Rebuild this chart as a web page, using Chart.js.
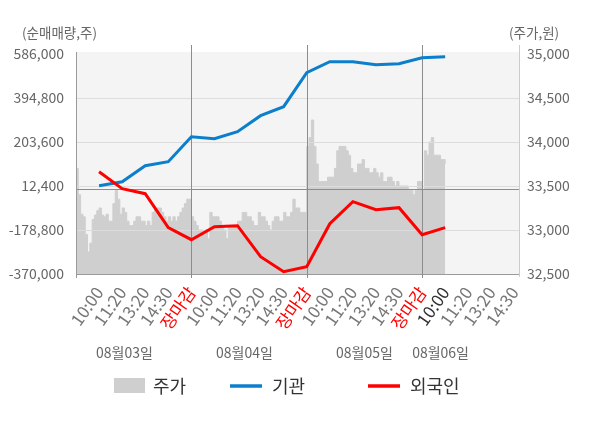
<!DOCTYPE html>
<html><head><meta charset="utf-8">
<script src="https://cdn.jsdelivr.net/npm/chart.js@4.4.0/dist/chart.umd.min.js"></script>
<style>html,body{margin:0;padding:0;background:#fff}#wrap{width:600px;height:428px;position:relative}canvas{display:block}</style>
</head><body><div id="wrap"><canvas id="c" width="600" height="428"></canvas></div>
<script>
// ---- data ----
const xLabels = ['', '10:00','11:20','13:20','14:30','장마감','10:00','11:20','13:20','14:30','장마감','10:00','11:20','13:20','14:30','장마감','10:00','11:20','13:20','14:30'];
const dayLabels = ['08월03일','08월04일','08월05일','08월06일'];
const dayLabelPos = [2.1, 7.3, 12.5, 15.8];
const lineX = [1,2,3,4,5,6,7,8,9,10,11,12,13,14,15,16];
const institution = [13800, 31000, 100700, 118000, 226700, 218000, 248400, 317900, 357000, 504700, 552500, 552500, 539500, 543900, 569900, 574300];
const foreign = [74600, 700, -21000, -168700, -220900, -164400, -160000, -294700, -359900, -338200, -151300, -55800, -90500, -81800, -199100, -168700];
const priceStep = 0.1;
const price = [
33700,33400,33180,33150,32950,32750,32850,33120,33170,33220,
33250,33170,33150,33180,33100,33100,33300,33450,33350,33180,
33250,33200,33100,33050,33050,33100,33150,33150,33100,33100,
33050,33100,33050,33200,33250,33250,33250,33200,33150,33100,
33150,33100,33150,33100,33150,33200,33250,33300,33350,33350,
33150,33100,33050,33000,33000,32950,33000,32900,33200,33150,
33150,33150,33100,33050,33000,32900,33050,33050,33050,33050,
33100,33100,33200,33200,33150,33150,33100,33050,33050,33200,
33150,33150,33100,33050,33000,33100,33150,33150,33100,33100,
33200,33150,33150,33200,33350,33250,33250,33200,33200,33200,
33950,34050,34250,33950,33750,33550,33550,33550,33550,33600,
33600,33600,33700,33900,33950,33950,33950,33900,33850,33700,
33650,33650,33750,33750,33800,33700,33700,33650,33650,33700,
33650,33600,33650,33550,33550,33600,33600,33550,33500,33550,
33500,33500,33500,33500,33450,33450,33400,33450,33550,33550,
33450,33900,33850,34000,34050,33850,33850,33850,33800,33800,
33750];
const leftTicks = [586000, 394800, 203600, 12400, -178800, -370000];
const rightTicks = [35000, 34500, 34000, 33500, 33000, 32500];
const zeroLine = 0;
const dividers = [5, 10, 15];
const legendNames = ['주가', '기관', '외국인'];

// ---- styles ----
const FONT = '"Noto Sans CJK KR", "Noto Sans", sans-serif';
const C_GRAY = '#cfcfcf', C_BLUE = '#0b7fcc', C_RED = '#ff0000';
Chart.defaults.font.family = FONT;

const pricePts = price.map((v, i) => ({x: +(i * priceStep).toFixed(2), y: v}));
const instPts = lineX.map((x, i) => ({x, y: institution[i]}));
const forPts = lineX.map((x, i) => ({x, y: foreign[i]}));

function zeroPad(s) { s.paddingTop = 0; s.paddingBottom = 0; s.paddingLeft = 0; s.paddingRight = 0; }

const decor = {
  id: 'decor',
  beforeDatasetsDraw(chart) {
    const {ctx, chartArea: a} = chart;
    ctx.save();
    ctx.fillStyle = '#f4f4f4';
    ctx.fillRect(a.left, a.top - 2, a.right - a.left, a.bottom - a.top + 2);
    ctx.restore();
  },
  afterDatasetDraw(chart, args) {
    if (args.index !== 0) return;
    const {ctx, chartArea: a, scales} = chart;
    const yl = scales.yL, x = scales.x;
    ctx.save();
    ctx.lineWidth = 1;
    ctx.strokeStyle = '#dcdcdc';
    leftTicks.forEach(v => {
      if (v === leftTicks[0] || v === leftTicks[leftTicks.length - 1]) return;
      const y = Math.round(yl.getPixelForValue(v)) + 0.5;
      ctx.beginPath(); ctx.moveTo(a.left, y); ctx.lineTo(a.right, y); ctx.stroke();
    });
    const yz = Math.round(yl.getPixelForValue(zeroLine)) + 0.5;
    ctx.strokeStyle = '#8c8c8c';
    ctx.beginPath(); ctx.moveTo(a.left, yz); ctx.lineTo(a.right, yz); ctx.stroke();
    const yb = Math.round(a.bottom) + 0.5;
    ctx.strokeStyle = '#9a9a9a';
    ctx.beginPath(); ctx.moveTo(a.left, yb); ctx.lineTo(a.right, yb); ctx.stroke();
    const xl = Math.round(a.left) + 0.5;
    ctx.beginPath(); ctx.moveTo(xl, a.top - 2); ctx.lineTo(xl, a.bottom + 4); ctx.stroke();
    ctx.strokeStyle = '#8c8c8c';
    dividers.forEach(d => {
      const px = Math.round(x.getPixelForValue(d)) + 0.5;
      ctx.beginPath(); ctx.moveTo(px, a.top - 9); ctx.lineTo(px, a.bottom + 4); ctx.stroke();
    });
    const xr = Math.round(a.right) + 0.5;
    ctx.strokeStyle = '#cccccc';
    ctx.beginPath(); ctx.moveTo(xr, a.top - 9); ctx.lineTo(xr, a.bottom + 3); ctx.stroke();
    ctx.restore();
  },
  afterDraw(chart) {
    const {ctx, scales} = chart;
    const x = scales.x;
    ctx.save();
    ctx.textBaseline = 'middle';
    ctx.fillStyle = '#666';
    ctx.font = '13.5px ' + FONT;
    ctx.textAlign = 'left';
    ctx.fillText('(순매매량,주)', 22, 33);
    ctx.fillText('(주가,원)', 509, 33);
    ctx.textAlign = 'center';
    ctx.font = '14px ' + FONT;
    dayLabels.forEach((t, i) => ctx.fillText(t, x.getPixelForValue(dayLabelPos[i]), 353));
    const ly = 386;
    ctx.textAlign = 'left';
    ctx.font = '18px ' + FONT;
    ctx.fillStyle = C_GRAY; ctx.fillRect(114, 378, 31, 15);
    ctx.fillStyle = '#333'; ctx.fillText(legendNames[0], 153, ly);
    ctx.strokeStyle = C_BLUE; ctx.lineWidth = 3.5;
    ctx.beginPath(); ctx.moveTo(230, ly); ctx.lineTo(262, ly); ctx.stroke();
    ctx.fillText(legendNames[1], 272, ly);
    ctx.strokeStyle = C_RED;
    ctx.beginPath(); ctx.moveTo(368, ly); ctx.lineTo(400, ly); ctx.stroke();
    ctx.fillText(legendNames[2], 410, ly);
    ctx.restore();
  }
};

new Chart(document.getElementById('c'), {
  type: 'line',
  data: {
    datasets: [
      {label: legendNames[0], data: pricePts, yAxisID: 'yR', stepped: true, fill: 'start',
       backgroundColor: C_GRAY, borderColor: C_GRAY, borderWidth: 1, pointRadius: 0, order: 3},
      {label: legendNames[1], data: instPts, yAxisID: 'yL', borderColor: C_BLUE, borderWidth: 3,
       pointRadius: 0, tension: 0, fill: false, order: 2},
      {label: legendNames[2], data: forPts, yAxisID: 'yL', borderColor: C_RED, borderWidth: 3,
       pointRadius: 0, tension: 0, fill: false, order: 1}
    ]
  },
  options: {
    responsive: false,
    animation: false,
    devicePixelRatio: 1,
    layout: {padding: {top: 54, left: 0, right: 0, bottom: 0}},
    plugins: {legend: {display: false}, tooltip: {enabled: false}},
    scales: {
      x: {
        type: 'linear', min: 0, max: 19.2,
        grid: {display: false, drawTicks: false}, border: {display: false},
        afterBuildTicks: s => { s.ticks = xLabels.map((_, i) => ({value: i})); },
        afterFit: s => { s.height = 154; zeroPad(s); },
        ticks: {
          autoSkip: false, minRotation: 55, maxRotation: 55, padding: 9,
          font: {size: 17},
          color: c => { const l = xLabels[c.tick.value]; return l === '장마감' ? C_RED : (c.tick.value === 16 ? '#333' : '#777'); },
          callback: v => xLabels[v] || ''
        }
      },
      yL: {
        position: 'left', min: -370000, max: 586000,
        grid: {display: false, drawTicks: false}, border: {display: false},
        afterBuildTicks: s => { s.ticks = leftTicks.map(v => ({value: v})); },
        afterFit: s => { s.width = 76; zeroPad(s); },
        ticks: {padding: 12, font: {size: 14}, color: '#666', callback: v => v.toLocaleString('en-US')}
      },
      yR: {
        position: 'right', min: 32500, max: 35000,
        grid: {display: false, drawTicks: false}, border: {display: false},
        afterBuildTicks: s => { s.ticks = rightTicks.map(v => ({value: v})); },
        afterFit: s => { s.width = 81; zeroPad(s); },
        ticks: {padding: 8, font: {size: 14}, color: '#666', callback: v => v.toLocaleString('en-US')}
      }
    }
  },
  plugins: [decor]
});
</script>
</body></html>
